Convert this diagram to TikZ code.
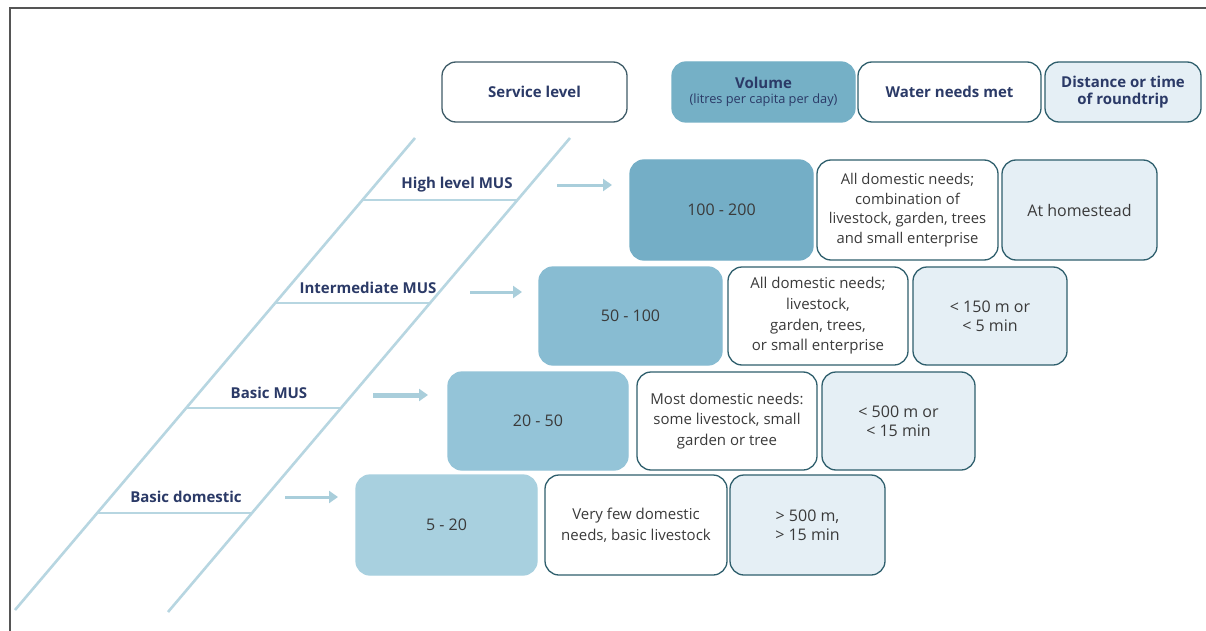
\documentclass[tikz,border=0pt]{standalone}
\usepackage{fontspec}
\setmainfont{Open Sans}
\usetikzlibrary{arrows.meta}
\definecolor{navy}{HTML}{2B3A67}
\definecolor{txt}{HTML}{3A3A3A}
\definecolor{edge}{HTML}{2F5F6D}
\definecolor{hdredge}{HTML}{3F5C68}
\definecolor{vhead}{HTML}{75B0C6}
\definecolor{vA}{HTML}{74AEC6}
\definecolor{vB}{HTML}{88BCD2}
\definecolor{vC}{HTML}{94C4D8}
\definecolor{vD}{HTML}{A8D0DF}
\definecolor{distfill}{HTML}{E5EFF5}
\definecolor{railc}{HTML}{B7D6E1}
\definecolor{arrc}{HTML}{A9CEDB}
\definecolor{framec}{HTML}{555555}
\newcommand\bx[7]{\node[#2, minimum width={#5-#3}, minimum height={#6-#4}] (#1) at (#3,#4) {#7};}
\begin{document}
\begin{tikzpicture}[x=1pt,y=-1pt,
  every node/.style={inner sep=0pt, outer sep=0pt},
  cell/.style={rounded corners=14pt, anchor=north west, align=center, text=txt, line width=1.3pt},
  volbox/.style={cell, fill=#1, draw=#1, font=\fontsize{16}{19}\selectfont},
  needbox/.style={cell, fill=white, draw=edge, font=\fontsize{15}{20.7}\selectfont},
  needsmall/.style={cell, fill=white, draw=edge, font=\fontsize{14.8}{19.5}\selectfont},
  distbox/.style={cell, fill=distfill, draw=edge, font=\fontsize{16}{19}\selectfont},
  hdr/.style={cell, text=navy, font=\bfseries\fontsize{15}{17.5}\selectfont},
  lab/.style={text=navy, font=\bfseries\fontsize{15}{17}\selectfont},
  rail/.style={draw=railc, line width=2.6pt},
  rung/.style={draw=railc, line width=2pt},
  arr/.style={draw=arrc, line width=#1, -{Triangle[length=9pt,width=12pt]}},
  arr/.default=3pt,
  framel/.style={draw=framec, line width=1.5pt}
]
\fill[white] (0,0) rectangle (1206,631);
\useasboundingbox (0,0) rectangle (1206,631);
% frame
\draw[framel] (1206,8) -- (10,8) -- (10,631);
% ladder
\draw[rail] (15,610) -- (415,138);
\draw[rail] (168,612) -- (570,138);
\draw[rung] (363,200) -- (517,200);
\draw[rung] (276,303) -- (430,303);
\draw[rung] (187,408) -- (341,408);
\draw[rung] (98,513) -- (252,513);
% ladder labels
\node[lab] (l1) at (457,185) {High level MUS};
\node[lab] (l2) at (368,288) {Intermediate MUS};
\node[lab] (l3) at (269,393) {Basic MUS};
\node[lab] (l4) at (186,497) {Basic domestic};
% headers
\bx{hs}{hdr, fill=white, draw=hdredge}{442}{62}{627}{122}{Service level}
\bx{hv}{hdr, fill=vhead, draw=vhead}{672}{62}{855}{122}{Volume\\[-2pt]{\mdseries\fontsize{12.8}{14}\selectfont (litres per capita per day)}}
\bx{hw}{hdr, fill=white, draw=edge}{858}{62}{1041}{122}{Water needs met}
\bx{hd}{hdr, fill=distfill, draw=edge}{1045}{62}{1201}{122}{Distance or time\\of roundtrip}
% row 1
\bx{v1}{volbox=vA}{630}{160}{813}{260}{100 - 200}
\bx{w1}{needsmall}{817}{160}{998}{260}{All domestic needs;\\combination of\\livestock, garden, trees\\and small enterprise}
\bx{d1}{distbox}{1002}{160}{1157}{260}{At homestead}
% row 2
\bx{v2}{volbox=vB}{539}{267}{722}{365}{50 - 100}
\bx{w2}{needbox}{728}{267}{908}{365}{All domestic needs;\\livestock,\\garden, trees,\\or small enterprise}
\bx{d2}{distbox}{913}{267}{1067}{365}{< 150 m or\\< 5 min}
% row 3
\bx{v3}{volbox=vC}{448}{372}{628}{470}{20 - 50}
\bx{w3}{needbox}{637}{372}{817}{470}{Most domestic needs:\\some livestock, small\\garden or tree}
\bx{d3}{distbox}{822}{372}{975}{470}{< 500 m or\\< 15 min}
% row 4
\bx{v4}{volbox=vD}{356}{475}{537}{575}{5 - 20}
\bx{w4}{needbox}{545}{475}{727}{575}{Very few domestic\\needs, basic livestock}
\bx{d4}{distbox}{730}{475}{885}{575}{> 500 m,\\> 15 min}
% arrows
\coordinate (a1s) at (557,185); \coordinate (a1e) at (612,185);
\coordinate (a2s) at (470,292); \coordinate (a2e) at (522,292);
\coordinate (a3s) at (373,395); \coordinate (a3e) at (428,395);
\coordinate (a4s) at (285,497); \coordinate (a4e) at (338,497);
\draw[arr] (a1s) -- (a1e);
\draw[arr] (a2s) -- (a2e);
\draw[arr=5pt] (a3s) -- (a3e);
\draw[arr] (a4s) -- (a4e);
\end{tikzpicture}
\end{document}
